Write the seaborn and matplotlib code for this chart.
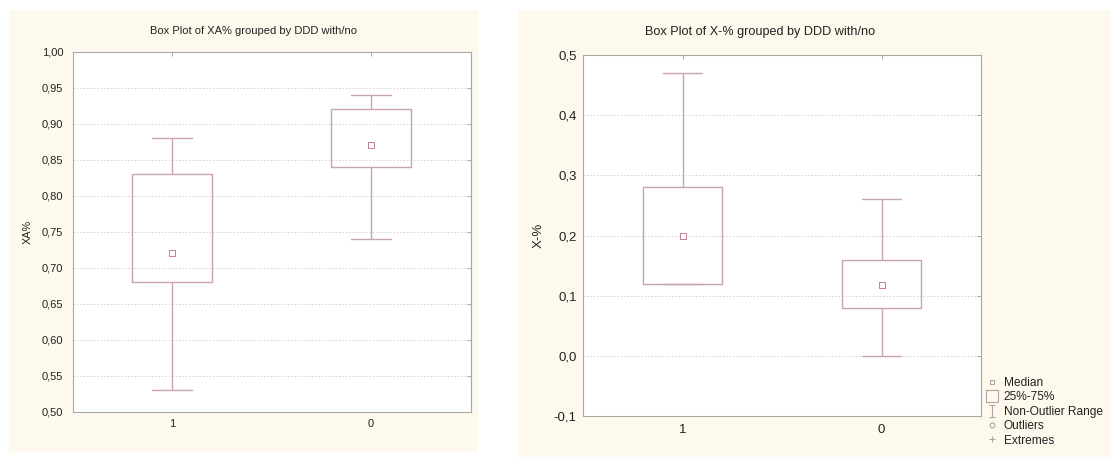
import numpy as np
import pandas as pd
import matplotlib
matplotlib.use("Agg")
import matplotlib.pyplot as plt
import seaborn as sns
from matplotlib.patches import Rectangle
from matplotlib.lines import Line2D
from matplotlib.path import Path
from matplotlib.ticker import FuncFormatter, MultipleLocator

# ---------------- data ----------------
categories = ["1", "0"]

# XA% : five-number summaries per group
xa_low = [0.53, 0.74]
xa_q1 = [0.68, 0.84]
xa_median = [0.72, 0.87]
xa_q3 = [0.83, 0.92]
xa_high = [0.88, 0.94]

# X-% : five-number summaries per group
xm_low = [0.12, 0.00]
xm_q1 = [0.12, 0.08]
xm_median = [0.20, 0.117]
xm_q3 = [0.28, 0.16]
xm_high = [0.47, 0.26]

left_title = "Box Plot of XA% grouped by DDD with/no"
right_title = "Box Plot of X-% grouped by DDD with/no"
left_ylabel = "XA%"
right_ylabel = "X-%"
legend_labels = ["Median", "25%-75%", "Non-Outlier Range", "Outliers", "Extremes"]


def summary_frame(low, q1, med, q3, high):
    rows = []
    for i, c in enumerate(categories):
        for v in (low[i], q1[i], med[i], q3[i], high[i]):
            rows.append({"group": c, "value": v})
    return pd.DataFrame(rows)


xa_df = summary_frame(xa_low, xa_q1, xa_median, xa_q3, xa_high)
xm_df = summary_frame(xm_low, xm_q1, xm_median, xm_q3, xm_high)

# ---------------- style ----------------
sns.set_theme(style="white")
plt.rcParams["font.family"] = ["Liberation Sans", "DejaVu Sans"]

CREAM = "#fdf9ec"
BOXC = "#c7a3b1"
MEDC = "#c27f93"
SPINE = "#a8a8a8"
GRID = "#cfcfcf"
TXT = "#222222"
LEGC = "#b5a0a9"

fig = plt.figure(figsize=(11.11, 4.57), dpi=100)
fig.patch.set_facecolor("white")
W, H = 1111.0, 457.0

# cream panels
fig.add_artist(Rectangle((9 / W, 1 - 452 / H), (478 - 9) / W, (452 - 10) / H,
                         transform=fig.transFigure, facecolor=CREAM,
                         edgecolor="none", zorder=0))
fig.add_artist(Rectangle((518 / W, 0), (W - 518) / W, (457 - 10) / H,
                         transform=fig.transFigure, facecolor=CREAM,
                         edgecolor="none", zorder=0))

ax1 = fig.add_axes([72.5 / W, 1 - 411.7 / H, (470.5 - 72.5) / W, (411.7 - 51.5) / H])
ax2 = fig.add_axes([583 / W, 1 - 416 / H, (981 - 583) / W, (416 - 55) / H])


def draw(ax, df, med, ylim, step, fmt, tsize, ylabel, ylab_size, pad_y, pad_x):
    ax.set_facecolor("white")
    sns.boxplot(data=df, x="group", y="value", order=categories, ax=ax,
                width=0.4, whis=1.5, fill=False, color=BOXC, linecolor=BOXC,
                linewidth=1.0, medianprops={"linewidth": 0, "alpha": 0},
                showfliers=False)
    sns.stripplot(x=categories, y=med, order=categories, ax=ax, jitter=False,
                  marker="s", size=3.8, color="white", edgecolor=MEDC,
                  linewidth=0.7, zorder=5)
    ax.set_xlim(-0.5, 1.5)
    ax.set_ylim(*ylim)
    ax.yaxis.set_major_locator(MultipleLocator(step))
    ax.yaxis.set_major_formatter(FuncFormatter(
        lambda v, p: fmt.format(v).replace(".", ",").replace("-0,0", "0,0")))
    ax.grid(axis="y", linestyle=(0, (1.5, 2)), color=GRID, linewidth=0.7)
    ax.set_axisbelow(True)
    for s in ax.spines.values():
        s.set_color(SPINE)
        s.set_linewidth(0.8)
    ax.tick_params(axis="both", which="major", direction="in", length=3,
                   width=0.7, color=SPINE, top=True, right=True,
                   labelsize=tsize, labelcolor=TXT)
    ax.tick_params(axis="y", pad=pad_y)
    ax.tick_params(axis="x", pad=pad_x)
    ax.set_xlabel("")
    ax.set_ylabel(ylabel, fontsize=ylab_size, color=TXT)


draw(ax1, xa_df, xa_median, (0.50, 1.00), 0.05, "{:.2f}", 8, left_ylabel, 7.8, 6.5, 5.5)
ax1.yaxis.set_label_coords(-0.099, 0.5)
draw(ax2, xm_df, xm_median, (-0.1, 0.5), 0.1, "{:.1f}", 9.5, right_ylabel, 9.5, 4.5, 6)
ax2.yaxis.set_label_coords(-0.095, 0.5)

fig.text(254 / W, 1 - 31 / H, left_title, ha="center", va="center",
         fontsize=8.0, color=TXT)
fig.text(760 / W, 1 - 32 / H, right_title, ha="center", va="center",
         fontsize=9.1, color=TXT)

# legend
range_marker = Path([(-0.5, 1), (0.5, 1), (0, 1), (0, -1), (-0.5, -1), (0.5, -1)],
                    [Path.MOVETO, Path.LINETO, Path.MOVETO, Path.LINETO,
                     Path.MOVETO, Path.LINETO])
handles = [
    Line2D([], [], linestyle="none", marker="s", markersize=3.5,
           markerfacecolor="none", markeredgecolor=LEGC, markeredgewidth=0.8),
    Line2D([], [], linestyle="none", marker="s", markersize=9,
           markerfacecolor="none", markeredgecolor=LEGC, markeredgewidth=0.8),
    Line2D([], [], linestyle="none", marker=range_marker, markersize=9,
           markerfacecolor="none", markeredgecolor=LEGC, markeredgewidth=0.8),
    Line2D([], [], linestyle="none", marker="o", markersize=3.5,
           markerfacecolor="none", markeredgecolor=LEGC, markeredgewidth=0.8),
    Line2D([], [], linestyle="none", marker="+", markersize=4,
           markerfacecolor="none", markeredgecolor=LEGC, markeredgewidth=0.8),
]
fig.legend(handles, legend_labels, loc="upper left",
           bbox_to_anchor=(987 / W, 1 - 377 / H), frameon=False,
           fontsize=8.6, handlelength=0.8, handletextpad=0.6,
           labelspacing=0.2, borderpad=0, borderaxespad=0,
           labelcolor=TXT)

fig.savefig("out.png", dpi=100, facecolor="white")
